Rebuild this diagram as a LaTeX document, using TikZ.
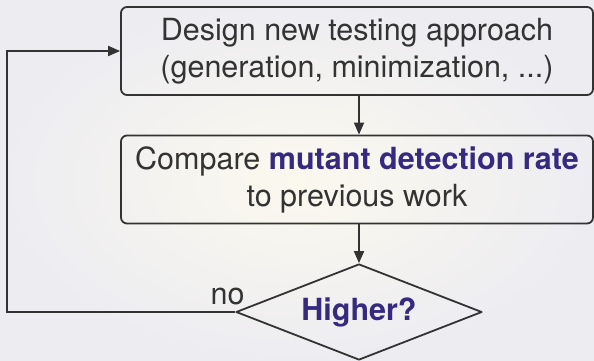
\documentclass[tikz,border=0pt]{standalone}
\usepackage{fontspec}
\setmainfont{TeX Gyre Heros}
\usetikzlibrary{shapes.geometric,arrows.meta}

\definecolor{bgin}{HTML}{FBF9EE}
\definecolor{bgout}{HTML}{EDECF1}
\definecolor{txt}{HTML}{333333}
\definecolor{hl}{HTML}{352A80}

\tikzset{
  stepbox/.style={draw=txt, line width=1.8pt, rounded corners=6pt,
    minimum width=472pt, minimum height=88pt, align=center,
    font=\fontsize{30.5}{37}\selectfont, text=txt},
  decision/.style={draw=txt, line width=1.8pt, diamond, aspect=2.56,
    minimum width=246pt, minimum height=96pt, inner sep=0pt,
    font=\fontsize{30.5}{37}\selectfont\bfseries, text=hl},
  flow/.style={draw=txt, line width=1.8pt, -{Triangle[length=12pt,width=10pt]}}
}

\begin{document}
\begin{tikzpicture}[x=1pt, y=-1pt, line cap=round, line join=round]

% Background with a soft glow
\shade[inner color=bgin, outer color=bgout] (0,0) rectangle (594,361);
\useasboundingbox (0,0) rectangle (594,361);

% Boxes of the loop
\node[stepbox] (design) at (357,51) {Design new testing approach\\(generation, minimization, ...)};
\node[stepbox] (compare) at (357,179.5) {Compare \textbf{\color{hl}mutant detection rate}\\to previous work};
\node[decision] (higher) at (359,312) {Higher?};

% Corner of the way back
\coordinate (back) at (7,312);

% Connectors
\draw[flow] (design.south -| higher.north) -- (compare.north -| higher.north);
\draw[flow] (compare.south -| higher.north) -- (higher.north);
\draw[flow, line cap=butt, line join=miter] (higher.west) -- (back) |- (design.west);

% Label on the way back
\node[anchor=base, text=txt, font=\fontsize{30.5}{37}\selectfont, inner sep=0pt, xshift=-7.5pt, yshift=8pt] at (higher.west) {no};

\end{tikzpicture}
\end{document}
